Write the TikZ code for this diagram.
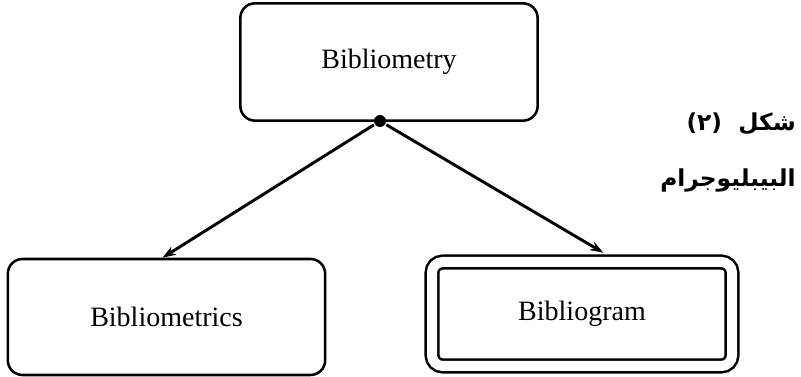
\documentclass[tikz,border=0pt]{standalone}
\usepackage{fontspec}
\setmainfont{Liberation Serif}
\newfontfamily\arabicfont[Script=Arabic]{DejaVu Sans}
\TeXXeTstate=1
\usetikzlibrary{arrows.meta}

\begin{document}
\begin{tikzpicture}[x=0.75pt, y=-0.75pt, line width=1.9pt,
      every node/.append style={font=\fontsize{21}{24}\selectfont},
      arrow/.style={line width=2.2pt, -{Stealth[length=10pt,width=7pt]}}]
    \tikzstyle{term} = [draw, rectangle, rounded corners=11pt, inner sep=0pt]
    \tikzstyle{dot} = [fill=black, circle, inner sep=0pt, minimum size=9pt]
    \tikzstyle{caption} = [anchor=east, inner sep=0pt, font=\arabicfont\bfseries\fontsize{17.5}{20}\selectfont]
    \useasboundingbox (0,0) rectangle (801,377);
    \node (metry) [term, minimum width=223pt, minimum height=88pt] at (389,62) {Bibliometry};
    \node (metrics) [term, minimum width=238pt, minimum height=87pt] at (166.5,317) {Bibliometrics};
    \node (gram) [term, double, double distance=7.5pt, rounded corners=8pt,
      minimum width=225pt, minimum height=78pt] at (582,314) {Bibliogram};
    \node (split) [dot] at (380,121) {};
    \draw[arrow] (split) -- ([xshift=-3pt]metrics.north);
    \draw[arrow] (split) -- ([xshift=16pt,yshift=6pt]gram.north);
    \node (fig) [caption] at (797,124) {\beginR شكل\ \ (٢)\endR};
    \node (title) [caption] at (797,180) {\beginR البيبليوجرام\endR};
\end{tikzpicture}
\end{document}
